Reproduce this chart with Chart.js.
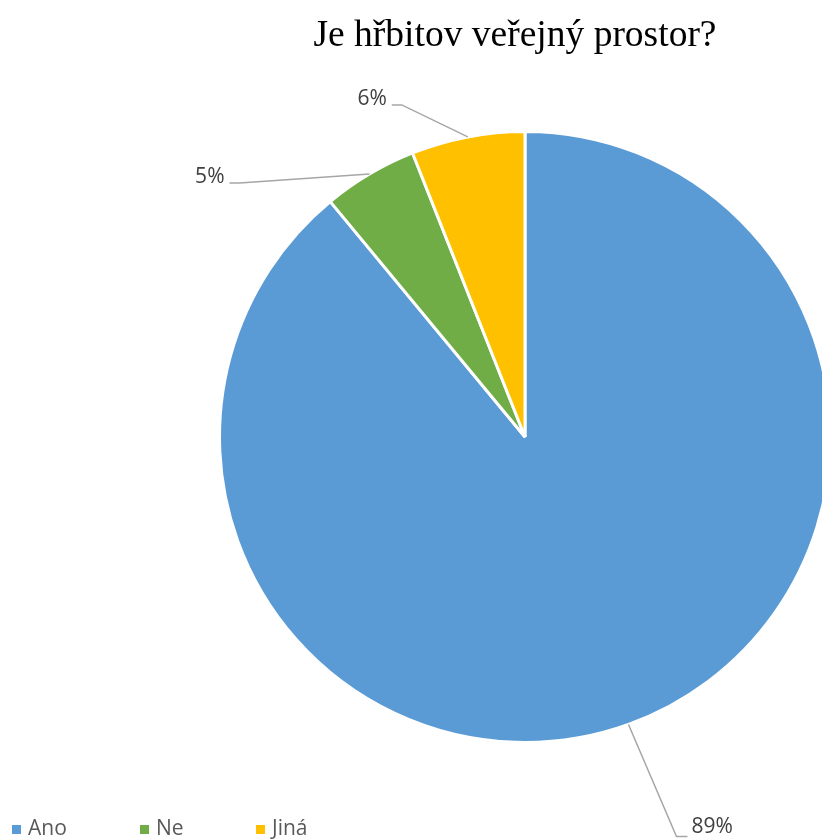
<!DOCTYPE html>
<html>
<head>
<meta charset="utf-8">
<script src="https://cdn.jsdelivr.net/npm/chart.js@4.4.0/dist/chart.umd.min.js"></script>
<style>
  html, body { margin: 0; padding: 0; background: #fff; overflow: hidden; }
  #wrap { width: 822px; height: 839px; overflow: hidden; position: relative; }
  canvas { display: block; }
</style>
</head>
<body>
<div id="wrap"><canvas id="pie" width="1050" height="839"></canvas></div>
<script>
  const categories = ['Ano', 'Ne', 'Jiná'];
  const values = [89, 5, 6];
  const colors = ['#5b9bd5', '#70ad47', '#ffc000'];
  const titleText = 'Je hřbitov veřejný prostor?';

  // leader line elbows, relative to the slice's outer midpoint
  const leaderOffsets = [[48, 112], [-130, 9], [-66, -32]];

  const labelsPlugin = {
    id: 'labelsPlugin',
    afterDraw(chart) {
      const ctx = chart.ctx;
      const meta = chart.getDatasetMeta(0);

      // title
      ctx.save();
      ctx.fillStyle = '#000';
      ctx.font = '37.5px "Liberation Serif", "Times New Roman", serif';
      ctx.textAlign = 'center';
      ctx.textBaseline = 'alphabetic';
      ctx.fillText(titleText, 515, 46);
      ctx.restore();

      // data labels with leader lines
      ctx.save();
      ctx.font = '21px "Open Sans", sans-serif';
      ctx.textBaseline = 'middle';
      meta.data.forEach((arc, i) => {
        const p = arc.getProps(['x', 'y', 'startAngle', 'endAngle', 'outerRadius'], true);
        const mid = (p.startAngle + p.endAngle) / 2;
        const sx = p.x + Math.cos(mid) * p.outerRadius;
        const sy = p.y + Math.sin(mid) * p.outerRadius;
        const ex = sx + leaderOffsets[i][0];
        const ey = sy + leaderOffsets[i][1];
        const right = leaderOffsets[i][0] > 0;
        const hx = ex + (right ? 11 : -10);
        ctx.strokeStyle = '#a6a6a6';
        ctx.lineWidth = 1.5;
        ctx.beginPath();
        ctx.moveTo(sx, sy);
        ctx.lineTo(ex, ey);
        ctx.lineTo(hx, ey);
        ctx.stroke();
        ctx.fillStyle = '#404040';
        ctx.textAlign = right ? 'left' : 'right';
        ctx.fillText(values[i] + '%', hx + (right ? 4 : -5), ey - (right ? 9 : 6));
      });
      ctx.restore();

      // legend
      ctx.save();
      ctx.font = '21px "Open Sans", sans-serif';
      ctx.textBaseline = 'middle';
      ctx.textAlign = 'left';
      const legendX = [12, 140, 256];
      categories.forEach((c, i) => {
        ctx.fillStyle = colors[i];
        ctx.fillRect(legendX[i], 825, 9, 9);
        ctx.fillStyle = '#595959';
        ctx.fillText(c, legendX[i] + 16, 829);
      });
      ctx.restore();
    }
  };

  new Chart(document.getElementById('pie'), {
    type: 'pie',
    data: {
      labels: categories,
      datasets: [{
        data: values,
        backgroundColor: colors,
        borderColor: '#ffffff',
        borderWidth: 3
      }]
    },
    options: {
      responsive: false,
      animation: false,
      layout: { padding: { top: 130, bottom: 95, left: 218, right: 218 } },
      plugins: {
        legend: { display: false },
        title: { display: false },
        tooltip: { enabled: false }
      }
    },
    plugins: [labelsPlugin]
  });
</script>
</body>
</html>
